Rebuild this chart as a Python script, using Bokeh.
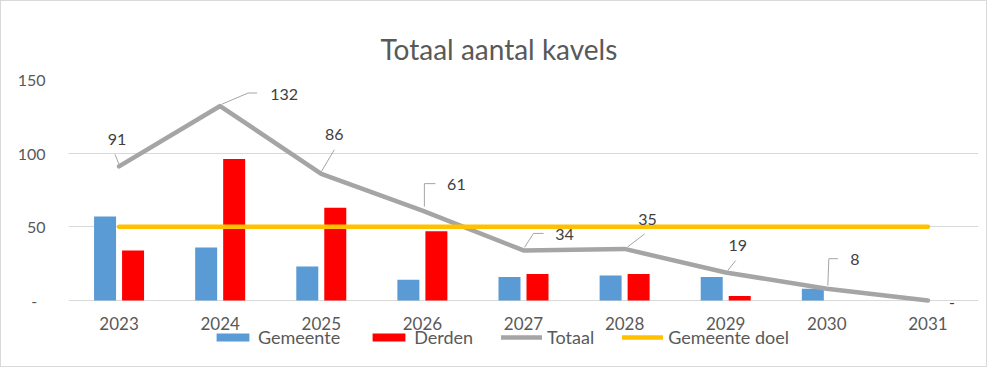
from bokeh.plotting import figure
from bokeh.models import Range1d, FixedTicker, Legend, LegendItem, ColumnDataSource
from bokeh.core.properties import value
from bokeh.embed import file_html
from bokeh.resources import INLINE

# ---- data ----
years = ["2023", "2024", "2025", "2026", "2027", "2028", "2029", "2030", "2031"]
gemeente = [57, 36, 23, 14, 16, 17, 16, 8, 0]
derden = [34, 96, 63, 47, 18, 18, 3, 0, 0]
totaal = [91, 132, 86, 61, 34, 35, 19, 8, 0]
gemeente_doel = [50, 50, 50, 50, 50, 50, 50, 50, 50]
y_ticks = [0, 50, 100, 150]
y_tick_labels = ["-\u00a0\u00a0", "50", "100", "150"]
title_text = "Totaal aantal kavels"

# ---- style constants (pixel offsets for data labels & leader lines) ----
label_dx = [-2, 64, 13, 34, 41, 23, 12, 28, 24]
label_dy = [27, 12, 39, 26, 16, 29, 27, 29, -2]
leaders = [
    [(0, 2), (-4, 12)],
    [(2, 2), (28, 13), (37, 13)],
    [(0, 2), (13, 24)],
    [(2, 4), (2, 27), (13, 27)],
    [(1, 3), (10, 17), (20, 17)],
    [(3, 2), (20, 15)],
    [(2, 2), (10, 12)],
    [(1, 3), (2, 30), (11, 30)],
    [],
]

W, H = 987, 367
ML, MR, MT, MB = 67, 10, 78, 7
ZERO_PX = 299          # screen y of value 0
TOP_PX = 78            # screen y of value 150
frame_w = W - ML - MR
px_x = frame_w / len(years)
px_y = (ZERO_PX - TOP_PX) / 150.0
y_start = -((H - MB) - ZERO_PX) / px_y

n = len(years)
xs = [i + 0.5 for i in range(n)]

FONT = "Lato"
TXT = "#595959"

p = figure(width=W, height=H, output_backend="svg", toolbar_location=None,
           x_range=Range1d(0, n), y_range=Range1d(y_start, 150),
           min_border_left=ML, min_border_right=MR, min_border_top=MT, min_border_bottom=MB)
p.outline_line_color = None
p.background_fill_color = "white"
p.border_fill_color = "white"
p.styles = {"border": "1px solid #d9d9d9", "box-sizing": "border-box"}

# title
p.title.text = title_text
p.title.align = "left"
p.title.offset = 312
p.title.standoff = 27
p.title.text_font = FONT
p.title.text_font_size = "28px"
p.title.text_font_style = "normal"
p.title.text_color = TXT

# grids
p.xgrid.grid_line_color = None
p.ygrid.grid_line_color = "#d9d9d9"
p.ygrid.ticker = FixedTicker(ticks=y_ticks)

# axes
p.xaxis.visible = False
p.yaxis.ticker = FixedTicker(ticks=y_ticks)
p.yaxis.major_label_overrides = {t: l for t, l in zip(y_ticks, y_tick_labels)}
p.yaxis.axis_line_color = None
p.yaxis.major_tick_line_color = None
p.yaxis.minor_tick_line_color = None
p.yaxis.major_label_text_font = FONT
p.yaxis.major_label_text_font_size = "16px"
p.yaxis.major_label_text_color = TXT
p.yaxis.major_label_standoff = 17

# category labels (drawn as text below the baseline)
p.text(x=xs, y=[-23 / px_y] * n, text=years, text_font=value(FONT), text_font_size="17px",
       text_color=TXT, text_align="center", text_baseline="middle")

bar_w = 22 / px_x
off = 14 / px_x
src = ColumnDataSource(dict(x=xs, g=gemeente, d=derden, t=totaal, doel=gemeente_doel,
                            xg=[x - off for x in xs], xd=[x + off for x in xs]))

r_g = p.vbar(x="xg", top="g", bottom=0, width=bar_w, source=src, fill_color="#5b9bd5", line_color=None)
r_d = p.vbar(x="xd", top="d", bottom=0, width=bar_w, source=src, fill_color="#ff0000", line_color=None)
r_t = p.line(x="x", y="t", source=src, line_color="#a5a5a5", line_width=4.5, line_join="round", line_cap="round")
r_doel = p.line(x="x", y="doel", source=src, line_color="#ffc000", line_width=4.5, line_cap="round")

# leader lines
lx, ly = [], []
for i, pts in enumerate(leaders):
    if not pts:
        continue
    lx.append([xs[i] + dx / px_x for dx, dy in pts])
    ly.append([totaal[i] + dy / px_y for dx, dy in pts])
p.multi_line(lx, ly, line_color="#a5a5a5", line_width=1)

# data labels
lab_src = ColumnDataSource(dict(
    x=[xs[i] + label_dx[i] / px_x for i in range(n)],
    y=[totaal[i] + label_dy[i] / px_y for i in range(n)],
    txt=[str(v) if v != 0 else "-" for v in totaal]))
p.text(x="x", y="y", text="txt", source=lab_src, text_font=value(FONT), text_font_size="16px",
       text_color="#404040", text_align="center", text_baseline="middle")

legend = Legend(items=[
    LegendItem(label="Gemeente", renderers=[r_g]),
    LegendItem(label="Derden", renderers=[r_d]),
    LegendItem(label="Totaal", renderers=[r_t]),
    LegendItem(label="Gemeente doel", renderers=[r_doel]),
], orientation="horizontal", location=(144, 13))
legend.label_text_font = FONT
legend.label_text_font_size = "18px"
legend.label_text_color = TXT
legend.glyph_width = 41
legend.glyph_height = 10
legend.label_standoff = 5
legend.spacing = 28
legend.padding = 0
legend.margin = 0
legend.border_line_color = None
legend.background_fill_alpha = 0
legend.label_height = 20
p.add_layout(legend, "center")

open("out.html", "w").write(file_html(p, INLINE))
